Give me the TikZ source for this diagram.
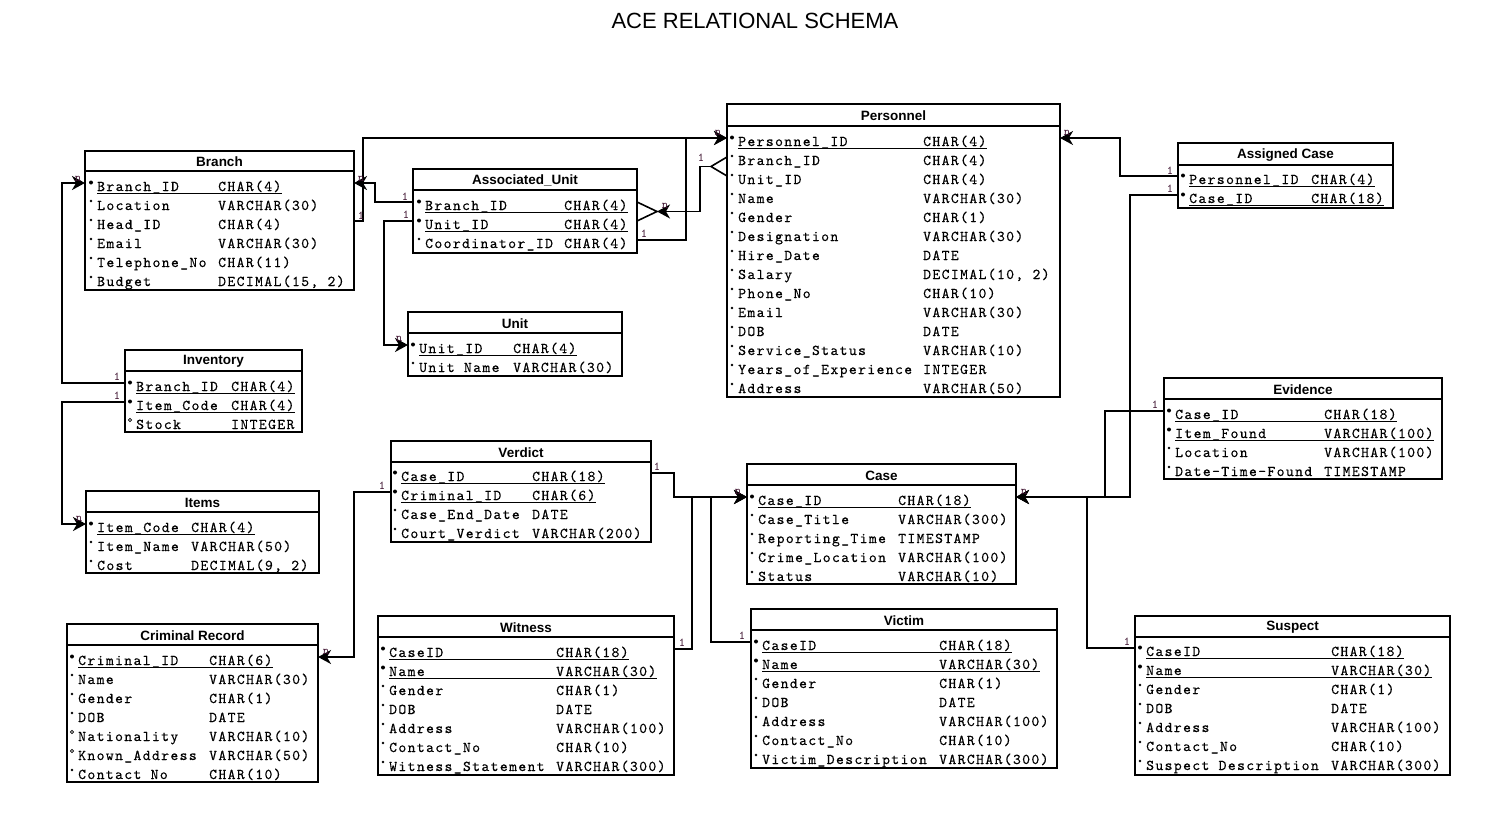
\documentclass[tikz,border=0pt]{standalone}
\usepackage{fontspec}
\setmainfont{Liberation Sans}
\newfontfamily\rowfam{lmmono10-regular}[Extension=.otf, LetterSpace=9, FakeBold=0.3]
\newfontfamily\lblfam{lmmono10-regular}[Extension=.otf]
\usetikzlibrary{arrows.meta}
\definecolor{lblcol}{RGB}{60,15,45}
\newcommand\rowfont{\rowfam\fontsize{15}{15}\selectfont}
\newcommand\lblfont{\lblfam\fontsize{12}{12}\selectfont}
\tikzset{
 tblbox/.style={draw, line width=1.6pt, inner sep=0pt, outer sep=0pt, fill=white},
 tblhead/.style={font=\fontsize{13.5}{13.5}\selectfont\bfseries, inner sep=0pt},
 tblrule/.style={line width=1.6pt},
 rowtxt/.style={anchor=base west, inner sep=0pt, font=\rowfont},
 uline/.style={line width=0.8pt},
 conn/.style={line width=1.6pt},
 fk/.style={conn, -{Stealth[length=13pt,width=14pt,inset=4pt]}},
 clbl/.style={font=\lblfont, text=lblcol, inner sep=0pt},
 ttl/.style={font=\fontsize{22}{22}\selectfont, inner sep=0pt},
}
\newcommand\ertbl[7]{%
 \node[tblbox, minimum width={(#4)-(#2)}, minimum height={(#5)-(#3)}] (#1) at ({((#2)+(#4))/2},{((#3)+(#5))/2}) {};
 \node[tblhead] (#1h) at ({((#2)+(#4))/2},{((#3)+(#6))/2+1}) {#7};
 \draw[tblrule] (#2,#6) -- (#4,#6);
}
\newcommand\rowK[6]{%
 \node[rowtxt] (#1n) at (#3,#2+4) {#5};
 \node[rowtxt] (#1t) at (#4,#2+4) {#6};
 \coordinate (#1c) at (#3,#2-4);
 \draw[uline] ([yshift=-2.8pt]#1n.base west) -- ([yshift=-2.8pt]#1t.base east);
 \fill ({#3-6},{#2-4.5}) circle[radius=2pt];
}
\newcommand\rowN[6]{%
 \node[rowtxt] (#1n) at (#3,#2+4) {#5};
 \node[rowtxt] (#1t) at (#4,#2+4) {#6};
 \coordinate (#1c) at (#3,#2-4);
 \fill ({#3-6},{#2-5}) circle[radius=1.4pt];
}
\newcommand\rowO[6]{%
 \node[rowtxt] (#1n) at (#3,#2+4) {#5};
 \node[rowtxt] (#1t) at (#4,#2+4) {#6};
 \coordinate (#1c) at (#3,#2-4);
 \draw[line width=0.7pt] ({#3-6},{#2-5}) circle[radius=1.7pt];
}
\begin{document}
\begin{tikzpicture}[x=1pt,y=-1pt]
\fill[white] (0,0) rectangle (1500,816);
\useasboundingbox (0,0) rectangle (1500,816);
\node[ttl] (title) at (755,21) {ACE RELATIONAL SCHEMA};

% Branch
\ertbl{br}{85}{151}{354}{290}{171}{Branch}
\rowK{br1}{187}{97}{218}{Branch\_ID}{CHAR(4)}
\rowN{br2}{206}{97}{218}{Location}{VARCHAR(30)}
\rowN{br3}{225}{97}{218}{Head\_ID}{CHAR(4)}
\rowN{br4}{244}{97}{218}{Email}{VARCHAR(30)}
\rowN{br5}{263}{97}{218}{Telephone\_No}{CHAR(11)}
\rowN{br6}{282}{97}{218}{Budget}{DECIMAL(15, 2)}

% Associated_Unit
\ertbl{au}{413}{169}{637}{253}{190}{Associated\_Unit}
\rowK{au1}{206}{425}{564}{Branch\_ID}{CHAR(4)}
\rowK{au2}{225}{425}{564}{Unit\_ID}{CHAR(4)}
\rowN{au3}{244}{425}{564}{Coordinator\_ID}{CHAR(4)}

% Unit
\ertbl{un}{408}{312}{622}{376}{333}{Unit}
\rowK{un1}{349}{419}{513}{Unit\_ID}{CHAR(4)}
\rowN{un2}{368}{419}{513}{Unit Name}{VARCHAR(30)}

% Personnel
\ertbl{pe}{727}{104}{1060}{397}{126}{Personnel}
\rowK{pe1}{142}{738}{923}{Personnel\_ID}{CHAR(4)}
\rowN{pe2}{161}{738}{923}{Branch\_ID}{CHAR(4)}
\rowN{pe3}{180}{738}{923}{Unit\_ID}{CHAR(4)}
\rowN{pe4}{199}{738}{923}{Name}{VARCHAR(30)}
\rowN{pe5}{218}{738}{923}{Gender}{CHAR(1)}
\rowN{pe6}{237}{738}{923}{Designation}{VARCHAR(30)}
\rowN{pe7}{256}{738}{923}{Hire\_Date}{DATE}
\rowN{pe8}{275}{738}{923}{Salary}{DECIMAL(10, 2)}
\rowN{pe9}{294}{738}{923}{Phone\_No}{CHAR(10)}
\rowN{pe10}{313}{738}{923}{Email}{VARCHAR(30)}
\rowN{pe11}{332}{738}{923}{DOB}{DATE}
\rowN{pe12}{351}{738}{923}{Service\_Status}{VARCHAR(10)}
\rowN{pe13}{370}{738}{923}{Years\_of\_Experience}{INTEGER}
\rowN{pe14}{389}{738}{923}{Address}{VARCHAR(50)}

% Assigned Case
\ertbl{ac}{1178}{143}{1393}{208}{165}{Assigned Case}
\rowK{ac1}{180}{1189}{1311}{Personnel\_ID}{CHAR(4)}
\rowK{ac2}{199}{1189}{1311}{Case\_ID}{CHAR(18)}

% Inventory
\ertbl{inv}{125}{350}{302}{432}{371}{Inventory}
\rowK{inv1}{387}{136}{231}{Branch\_ID}{CHAR(4)}
\rowK{inv2}{406}{136}{231}{Item\_Code}{CHAR(4)}
\rowO{inv3}{425}{136}{231}{Stock}{INTEGER}

% Items
\ertbl{it}{86}{491}{319}{573}{512}{Items}
\rowK{it1}{528}{97}{191}{Item\_Code}{CHAR(4)}
\rowN{it2}{547}{97}{191}{Item\_Name}{VARCHAR(50)}
\rowN{it3}{566}{97}{191}{Cost}{DECIMAL(9, 2)}

% Verdict
\ertbl{ve}{391}{441}{651}{542}{462}{Verdict}
\rowK{ve1}{477}{401}{532}{Case\_ID}{CHAR(18)}
\rowK{ve2}{496}{401}{532}{Criminal\_ID}{CHAR(6)}
\rowN{ve3}{515}{401}{532}{Case\_End\_Date}{DATE}
\rowN{ve4}{534}{401}{532}{Court\_Verdict}{VARCHAR(200)}

% Case
\ertbl{ca}{747}{464}{1016}{584}{485}{Case}
\rowK{ca1}{501}{758}{898}{Case\_ID}{CHAR(18)}
\rowN{ca2}{520}{758}{898}{Case\_Title}{VARCHAR(300)}
\rowN{ca3}{539}{758}{898}{Reporting\_Time}{TIMESTAMP}
\rowN{ca4}{558}{758}{898}{Crime\_Location}{VARCHAR(100)}
\rowN{ca5}{577}{758}{898}{Status}{VARCHAR(10)}

% Evidence
\ertbl{ev}{1164}{378}{1442}{479}{399}{Evidence}
\rowK{ev1}{415}{1175}{1324}{Case\_ID}{CHAR(18)}
\rowK{ev2}{434}{1175}{1324}{Item\_Found}{VARCHAR(100)}
\rowN{ev3}{453}{1175}{1324}{Location}{VARCHAR(100)}
\rowN{ev4}{472}{1175}{1324}{Date-Time-Found}{TIMESTAMP}

% Criminal Record
\ertbl{cr}{67}{624}{318}{782}{645}{Criminal Record}
\rowK{cr1}{661}{78}{209}{Criminal\_ID}{CHAR(6)}
\rowN{cr2}{680}{78}{209}{Name}{VARCHAR(30)}
\rowN{cr3}{699}{78}{209}{Gender}{CHAR(1)}
\rowN{cr4}{718}{78}{209}{DOB}{DATE}
\rowO{cr5}{737}{78}{209}{Nationality}{VARCHAR(10)}
\rowO{cr6}{756}{78}{209}{Known\_Address}{VARCHAR(50)}
\rowN{cr7}{775}{78}{209}{Contact No}{CHAR(10)}

% Witness
\ertbl{wi}{378}{616}{674}{775}{637}{Witness}
\rowK{wi1}{653}{389}{556}{CaseID}{CHAR(18)}
\rowK{wi2}{672}{389}{556}{Name}{VARCHAR(30)}
\rowN{wi3}{691}{389}{556}{Gender}{CHAR(1)}
\rowN{wi4}{710}{389}{556}{DOB}{DATE}
\rowN{wi5}{729}{389}{556}{Address}{VARCHAR(100)}
\rowN{wi6}{748}{389}{556}{Contact\_No}{CHAR(10)}
\rowN{wi7}{767}{389}{556}{Witness\_Statement}{VARCHAR(300)}

% Victim
\ertbl{vi}{751}{609}{1057}{768}{630}{Victim}
\rowK{vi1}{646}{762}{939}{CaseID}{CHAR(18)}
\rowK{vi2}{665}{762}{939}{Name}{VARCHAR(30)}
\rowN{vi3}{684}{762}{939}{Gender}{CHAR(1)}
\rowN{vi4}{703}{762}{939}{DOB}{DATE}
\rowN{vi5}{722}{762}{939}{Address}{VARCHAR(100)}
\rowN{vi6}{741}{762}{939}{Contact\_No}{CHAR(10)}
\rowN{vi7}{760}{762}{939}{Victim\_Description}{VARCHAR(300)}

% Suspect
\ertbl{su}{1135}{616}{1450}{775}{637}{Suspect}
\rowK{su1}{652}{1146}{1331}{CaseID}{CHAR(18)}
\rowK{su2}{671}{1146}{1331}{Name}{VARCHAR(30)}
\rowN{su3}{690}{1146}{1331}{Gender}{CHAR(1)}
\rowN{su4}{709}{1146}{1331}{DOB}{DATE}
\rowN{su5}{728}{1146}{1331}{Address}{VARCHAR(100)}
\rowN{su6}{747}{1146}{1331}{Contact\_No}{CHAR(10)}
\rowN{su7}{766}{1146}{1331}{Suspect Description}{VARCHAR(300)}

% ---------- connectors ----------
\draw[fk] (inv.west |- inv1c) -- ++(-63,0) |- (br.west |- br1c);
\draw[fk] (inv.west |- inv2c) -- ++(-63,0) |- (it.west |- it1c);
\draw[fk] (au.west |- au1c) -- ++(-38,0) |- (br.east |- br1c);
\draw[fk] (br.east |- br3c) -- ++(9,0) |- (pe.west |- pe1c);
\draw[fk] (au.east |- au3c) -- ++(49,0) |- (pe.west |- pe1c);
\draw[fk] (au.west |- au2c) -- ++(-29,0) |- (un.west |- un1c);
% composite key Personnel -> Associated_Unit
\coordinate (pfk) at (711,166.5);
\coordinate (aufk) at (657,211.5);
\draw[conn] (pe.west |- pe2c) -- (pfk) -- (pe.west |- pe3c);
\draw[conn] (au.east |- au1c) -- (aufk) -- (au.east |- au2c);
\draw[fk] (pfk) -- ++(-11,0) |- (aufk);
\draw[fk] (ac.west |- ac1c) -- ++(-58,0) |- (pe.east |- pe1c);
\draw[fk] (ac.west |- ac2c) -- ++(-48,0) |- (ca.east |- ca1c);
\draw[fk] (ev.west |- ev1c) -- ++(-59,0) |- (ca.east |- ca1c);
\draw[fk] (su.west |- su1c) -- ++(-48,0) |- (ca.east |- ca1c);
\draw[fk] (ve.east |- ve1c) -- ++(23,0) |- (ca.west |- ca1c);
\draw[fk] (wi.east |- wi1c) -- ++(18,0) |- (ca.west |- ca1c);
\draw[fk] (vi.west |- vi1c) -- ++(-40,0) |- (ca.west |- ca1c);
\draw[fk] (ve.west |- ve2c) -- ++(-37,0) |- (cr.east |- cr1c);

% ---------- cardinality labels ----------
\node[clbl] (l1) at (117,377) {1};
\node[clbl] (l2) at (78,179) {n};
\node[clbl] (l3) at (117,396) {1};
\node[clbl] (l4) at (79,519) {n};
\node[clbl] (l5) at (405,197) {1};
\node[clbl] (l6) at (361,179) {n};
\node[clbl] (l7) at (361,216) {1};
\node[clbl] (l8) at (718,133) {n};
\node[clbl] (l9) at (644,234) {1};
\node[clbl] (l10) at (406,215) {1};
\node[clbl] (l11) at (399,339) {n};
\node[clbl] (l12) at (701,158) {1};
\node[clbl] (l13) at (665,206) {n};
\node[clbl] (l14) at (1170,171) {1};
\node[clbl] (l15) at (1067,133) {n};
\node[clbl] (l16) at (1170,189) {1};
\node[clbl] (l17) at (1155,405) {1};
\node[clbl] (l18) at (1024,492) {n};
\node[clbl] (l19) at (1127,642) {1};
\node[clbl] (l20) at (657,467) {1};
\node[clbl] (l21) at (738,492) {n};
\node[clbl] (l22) at (682,643) {1};
\node[clbl] (l23) at (742,636) {1};
\node[clbl] (l24) at (382,486) {1};
\node[clbl] (l25) at (326,652) {n};
\end{tikzpicture}
\end{document}
